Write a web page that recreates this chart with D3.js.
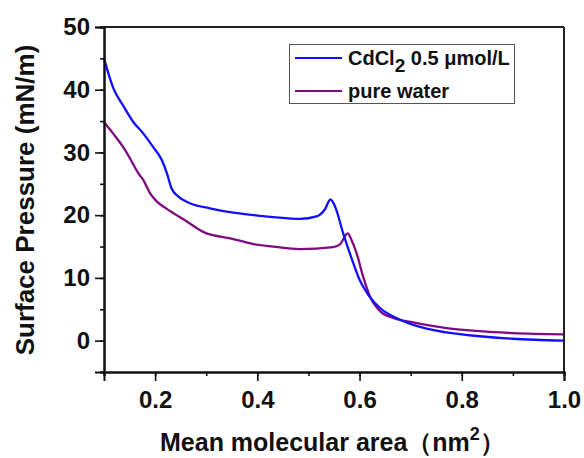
<!DOCTYPE html>
<html>
<head>
<meta charset="utf-8">
<script src="https://cdn.jsdelivr.net/npm/d3@7"></script>
<style>
  body { margin: 0; background: #fff; }
  text { font-family: "Liberation Sans", Arial, sans-serif; font-weight: bold; }
</style>
</head>
<body>
<div class="chart"></div>
<script>
// === Data ===
const cdclArea = [0.100, 0.118, 0.138, 0.157, 0.177, 0.196, 0.213, 0.223, 0.232, 0.245, 0.268, 0.307, 0.353, 0.405, 0.431, 0.483, 0.516, 0.532, 0.543, 0.552, 0.568, 0.584, 0.600, 0.617, 0.640, 0.672, 0.705, 0.770, 0.835, 0.900, 1.000];
const cdclPressure = [45.0, 40.3, 37.4, 34.9, 33.0, 30.9, 28.8, 26.7, 24.3, 23.0, 21.9, 21.1, 20.4, 19.9, 19.7, 19.4, 19.8, 20.9, 22.5, 21.4, 17.1, 13.2, 9.7, 7.3, 5.2, 3.6, 2.5, 1.3, 0.7, 0.3, 0.0];

const waterArea = [0.100, 0.118, 0.138, 0.154, 0.167, 0.177, 0.190, 0.203, 0.223, 0.262, 0.295, 0.353, 0.392, 0.431, 0.483, 0.548, 0.561, 0.577, 0.584, 0.594, 0.607, 0.620, 0.640, 0.666, 0.705, 0.770, 0.835, 0.900, 1.000];
const waterPressure = [34.8, 33.0, 30.8, 28.6, 26.7, 25.6, 23.5, 22.2, 21.0, 19.0, 17.3, 16.2, 15.4, 15.0, 14.6, 14.9, 15.3, 17.1, 16.1, 14.0, 10.2, 7.1, 4.7, 3.6, 2.9, 2.0, 1.5, 1.2, 1.0];

const seriesNames = ["CdCl2 0.5 μmol/L", "pure water"];
const seriesColors = ["#1010ff", "#800a80"];

const xTicks = [0.2, 0.4, 0.6, 0.8, 1.0];
const yTicks = [0, 10, 20, 30, 40, 50];

// === Layout ===
const W = 584, H = 458;
const margin = {top: 27, right: 20, bottom: 86, left: 104};
const width = 564 - margin.left,
      height = 372 - margin.top;

const svg = d3.select(".chart").append("svg")
    .attr("width", W)
    .attr("height", H);

const g = svg.append("g")
    .attr("transform", `translate(${margin.left},${margin.top})`);

// === Scales ===
const xScale = d3.scaleLinear().domain([0.1, 1.0]).range([0, width]);
const yScale = d3.scaleLinear().domain([-5, 50]).range([height, 0]);

// === Curves ===
const line = d3.line()
    .x(d => xScale(d[0]))
    .y(d => yScale(d[1]))
    .curve(d3.curveMonotoneX);

const series = [
    d3.zip(cdclArea, cdclPressure),
    d3.zip(waterArea, waterPressure)
];

// draw purple first so blue sits on top like the original
[1, 0].forEach(i => {
    g.append("path")
        .datum(series[i])
        .attr("fill", "none")
        .attr("stroke", seriesColors[i])
        .attr("stroke-width", 2.3)
        .attr("d", line);
});

// === Frame ===
g.append("line").attr("x1", 0).attr("x2", width).attr("y1", 0).attr("y2", 0)
    .attr("stroke", "#222").attr("stroke-width", 2);
g.append("line").attr("x1", width).attr("x2", width).attr("y1", 0).attr("y2", height)
    .attr("stroke", "#222").attr("stroke-width", 2);

// === Axes ===
const xAxis = d3.axisBottom(xScale)
    .tickValues(d3.range(0.1, 1.001, 0.1))
    .tickSize(4)
    .tickFormat("");
const xAxisMajor = d3.axisBottom(xScale)
    .tickValues(xTicks)
    .tickSize(9)
    .tickPadding(10)
    .tickFormat(d3.format(".1f"));

const yAxis = d3.axisLeft(yScale)
    .tickValues(d3.range(-5, 50.1, 5))
    .tickSize(4)
    .tickFormat("");
const yAxisMajor = d3.axisLeft(yScale)
    .tickValues(yTicks)
    .tickSize(9)
    .tickPadding(5)
    .tickFormat(d3.format("d"));

[xAxis, xAxisMajor].forEach(a => {
    g.append("g")
        .attr("class", "axis x-axis")
        .attr("transform", `translate(0,${height})`)
        .call(a);
});
[yAxis, yAxisMajor].forEach(a => {
    g.append("g")
        .attr("class", "axis y-axis")
        .call(a);
});

g.selectAll(".axis path").attr("stroke", "#111").attr("stroke-width", 2);
g.selectAll(".axis line").attr("stroke", "#111").attr("stroke-width", 1.6);
g.selectAll(".axis text")
    .attr("font-size", 24)
    .attr("font-family", "'Liberation Sans', Arial, sans-serif")
    .attr("font-weight", "bold")
    .attr("fill", "#111");

// === Axis titles ===
const xTitle = svg.append("text")
    .attr("x", 160)
    .attr("y", 451)
    .attr("text-anchor", "start")
    .attr("font-size", 25)
    .attr("fill", "#111");
xTitle.append("tspan").text("Mean molecular area（nm");
xTitle.append("tspan").attr("dy", -11).attr("font-size", 18).text("2");
xTitle.append("tspan").attr("dy", 11).text("）");

svg.append("text")
    .attr("transform", "translate(34,200) rotate(-90)")
    .attr("text-anchor", "middle")
    .attr("font-size", 26)
    .attr("fill", "#111")
    .text("Surface Pressure (mN/m)");

// === Legend ===
const legend = svg.append("g").attr("class", "legend");
legend.append("rect")
    .attr("x", 289.5).attr("y", 44.5)
    .attr("width", 225).attr("height", 59)
    .attr("fill", "#fff")
    .attr("stroke", "#555")
    .attr("stroke-width", 1);

const legendY = [58, 91];
seriesNames.forEach((name, i) => {
    legend.append("line")
        .attr("x1", 295).attr("x2", 342)
        .attr("y1", legendY[i]).attr("y2", legendY[i])
        .attr("stroke", seriesColors[i])
        .attr("stroke-width", 2);
    const t = legend.append("text")
        .attr("x", 348)
        .attr("y", legendY[i] + 7)
        .attr("font-size", 20)
        .attr("fill", "#111");
    if (i === 0) {
        t.append("tspan").text("CdCl");
        t.append("tspan").attr("dy", 7).attr("font-size", 19).text("2");
        t.append("tspan").attr("dy", -7).text(" 0.5 μmol/L");
    } else {
        t.text(name);
    }
});
</script>
</body>
</html>
